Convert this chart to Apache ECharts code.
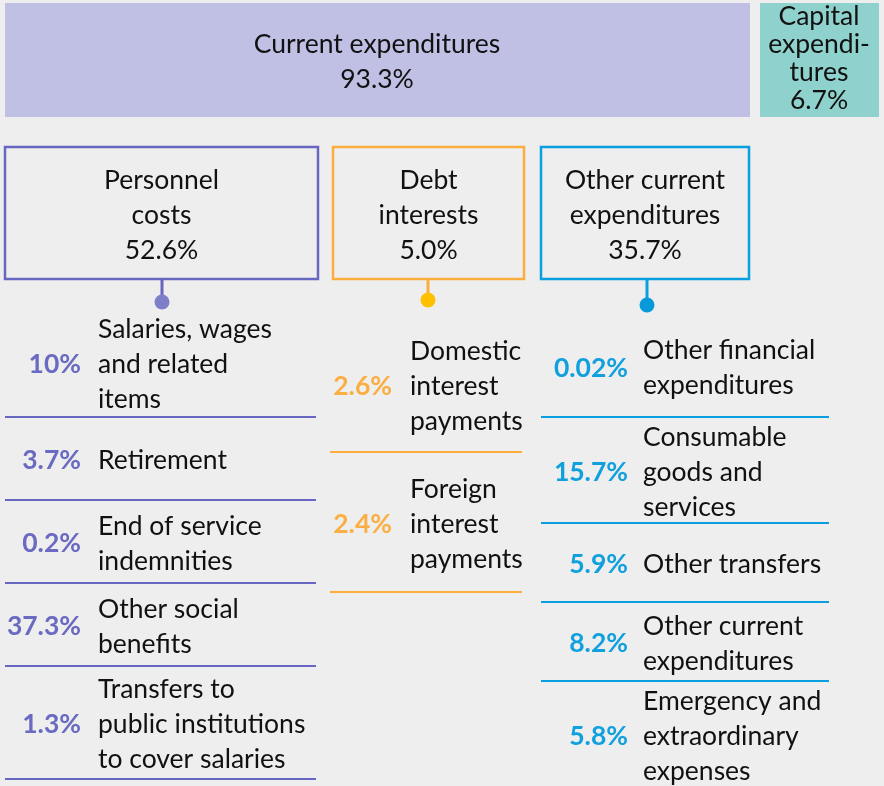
<!DOCTYPE html>
<html>
<head>
<meta charset="utf-8">
<script src="https://cdn.jsdelivr.net/npm/echarts@6/dist/echarts.min.js"></script>
<style>
  html, body { margin: 0; padding: 0; background: #eeeeee; }
  #chart { width: 884px; height: 786px; }
</style>
</head>
<body>
<div id="chart"></div>
<script>
// top level split
const topNames = ['Current expenditures', 'Capital\nexpendi-\ntures'];
const topValues = [93.3, 6.7];

// second level
const groupNames = ['Personnel\ncosts', 'Debt\ninterests', 'Other current\nexpenditures'];
const groupValues = [52.6, 5.0, 35.7];

// breakdown per group
const personnelItems = [
  'Salaries, wages\nand related\nitems',
  'Retirement',
  'End of service\nindemnities',
  'Other social\nbenefits',
  'Transfers to\npublic institutions\nto cover salaries'
];
const personnelValues = [10, 3.7, 0.2, 37.3, 1.3];

const debtItems = ['Domestic\ninterest\npayments', 'Foreign\ninterest\npayments'];
const debtValues = [2.6, 2.4];

const otherItems = [
  'Other financial\nexpenditures',
  'Consumable\ngoods and\nservices',
  'Other transfers',
  'Other current\nexpenditures',
  'Emergency and\nextraordinary\nexpenses'
];
const otherValues = [0.02, 15.7, 5.9, 8.2, 5.8];

const FONT = 'Lato, "Noto Sans", sans-serif';
const FS = 26.5;

let chart = echarts.init(document.getElementById('chart'));

// layout of each column (positions only)
let columns = [
  { items: personnelItems, values: personnelValues, color: '#6767c1', dot: '#7f7fc9', valColor: '#6a6ac2',
    box: [5, 147, 313, 132], stem: 162, dotY: 302, line: [5, 316], valX: 81, txtX: 98,
    bounds: [307, 417, 500, 583, 666, 779], lastLine: true },
  { items: debtItems, values: debtValues, color: '#fbad3d', dot: '#ffc000', valColor: '#fbae42',
    box: [333, 147, 191, 132], stem: 428, dotY: 300, line: [330, 522], valX: 392, txtX: 410,
    bounds: [316, 452, 592], lastLine: true },
  { items: otherItems, values: otherValues, color: '#0aa0df', dot: '#0899d8', valColor: '#10a0de',
    box: [541, 147, 208, 132], stem: 647, dotY: 305, line: [541, 829], valX: 628, txtX: 643,
    bounds: [315, 417, 523, 602, 681, 787], lastLine: false }
];

let elements = [];

// top bar
elements.push({ type: 'rect', shape: { x: 5, y: 3, width: 745, height: 114 }, style: { fill: '#c0bfe4' } });
elements.push({ type: 'rect', shape: { x: 760, y: 3, width: 119, height: 114 }, style: { fill: '#8fd1cc' } });
elements.push({
  type: 'text', x: 377, y: 62,
  style: { text: topNames[0] + '\n' + topValues[0].toFixed(1) + '%', font: FS + 'px ' + FONT, fill: '#111',
    textAlign: 'center', textVerticalAlign: 'middle', lineHeight: 35 }
});
elements.push({
  type: 'text', x: 819, y: 58,
  style: { text: topNames[1] + '\n' + topValues[1].toFixed(1) + '%', font: FS + 'px ' + FONT, fill: '#111',
    textAlign: 'center', textVerticalAlign: 'middle', lineHeight: 28 }
});

columns.forEach((col, i) => {
  let b = col.box;
  elements.push({
    type: 'rect', shape: { x: b[0], y: b[1], width: b[2], height: b[3] },
    style: { fill: 'none', stroke: col.color, lineWidth: 2.5 }
  });
  elements.push({
    type: 'text', x: b[0] + b[2] / 2, y: b[1] + b[3] / 2 + 2,
    style: { text: groupNames[i] + '\n' + groupValues[i].toFixed(1) + '%', font: FS + 'px ' + FONT, fill: '#111',
      textAlign: 'center', textVerticalAlign: 'middle', lineHeight: 35 }
  });
  elements.push({
    type: 'line', shape: { x1: col.stem, y1: b[1] + b[3], x2: col.stem, y2: col.dotY },
    style: { stroke: col.color, lineWidth: 3 }
  });
  elements.push({
    type: 'circle', shape: { cx: col.stem, cy: col.dotY, r: 7.5 }, style: { fill: col.dot }
  });

  col.items.forEach((name, j) => {
    let y0 = col.bounds[j];
    let y1 = col.bounds[j + 1];
    let cy = (y0 + y1) / 2 + 2;
    elements.push({
      type: 'text', x: col.valX, y: cy,
      style: { text: col.values[j] + '%', font: 'bold ' + FS + 'px ' + FONT, fill: col.valColor,
        textAlign: 'right', textVerticalAlign: 'middle' }
    });
    elements.push({
      type: 'text', x: col.txtX, y: cy,
      style: { text: name, font: FS + 'px ' + FONT, fill: '#111',
        textAlign: 'left', textVerticalAlign: 'middle', lineHeight: 35 }
    });
    let last = j === col.items.length - 1;
    if (!last || col.lastLine) {
      elements.push({
        type: 'line', shape: { x1: col.line[0], y1: y1, x2: col.line[1], y2: y1 },
        style: { stroke: col.color, lineWidth: 2 }
      });
    }
  });
});

chart.setOption({
  backgroundColor: '#eeeeee',
  animation: false,
  graphic: { elements: elements }
});
</script>
</body>
</html>
